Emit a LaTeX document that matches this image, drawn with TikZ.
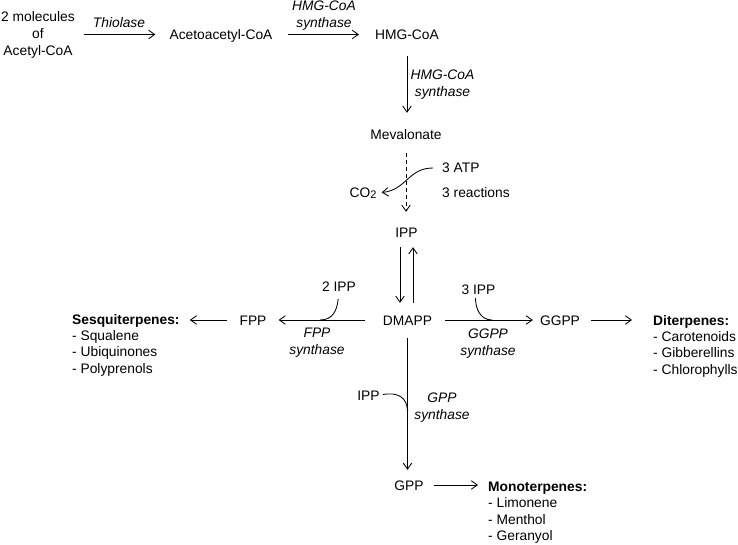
\documentclass[tikz,border=0pt]{standalone}
\usepackage{fontspec}
\setmainfont{Liberation Sans}
\usetikzlibrary{arrows.meta}
\begin{document}
\begin{tikzpicture}[x=1pt,y=-1pt,
  every node/.style={font=\fontsize{13.8}{17}\selectfont, inner sep=0pt},
  met/.style={text height=10pt, text depth=0pt},
  enz/.style={font=\fontsize{13.8}{17}\selectfont\itshape, align=center},
  grp/.style={align=left, anchor=north west, font=\fontsize{13.8}{16.3}\selectfont},
  rx/.style={-{Straight Barb[length=6pt,width=8.5pt]}, line width=0.85pt},
  hook/.style={line width=0.85pt}]
\useasboundingbox (0,0) rectangle (738,545);
\node[align=center] (AcCoA) at (38,34.5) {2 molecules\\of\\Acetyl-CoA};
\node[met] (AcAcCoA) at (221,34.5) {Acetoacetyl-CoA};
\node[met] (HMGCoA) at (407,34.5) {HMG-CoA};
\node[met] (Mev) at (406,135) {Mevalonate};
\node[met] (IPP) at (406.5,232) {IPP};
\node[met] (DMAPP) at (407.5,320) {DMAPP};
\node[met] (FPP) at (253,320) {FPP};
\node[met] (GGPP) at (560,320) {GGPP};
\node[met] (GPP) at (409,485) {GPP};
\node[met] (CO2) at (363,193) {CO\raisebox{-1pt}{\fontsize{11}{12}\selectfont 2}};
\node[met,anchor=west] (ATP) at (442,168) {3 ATP};
\node[met,anchor=west] (React) at (442,193) {3 reactions};
\node[met] (IPPa) at (339,286) {2 IPP};
\node[met] (IPPb) at (478.5,289) {3 IPP};
\node[met] (IPPc) at (368.5,395) {IPP};
\node[enz,met] (Thio) at (119,23) {Thiolase};
\node[enz,anchor=north] (HMGSa) at (324,1) {HMG-CoA\\synthase};
\node[enz,anchor=north] (HMGSb) at (442.5,70) {HMG-CoA\\synthase};
\node[enz,anchor=north] (FPPS) at (317,328) {FPP\\synthase};
\node[enz,anchor=north] (GGPPS) at (488,329) {GGPP\\synthase};
\node[enz,anchor=north] (GPPS) at (442,393) {GPP\\synthase};
\node[grp] (Sesq) at (72,314) {\textbf{Sesquiterpenes:}\\- Squalene\\- Ubiquinones\\- Polyprenols};
\node[grp] (Dit) at (653,315) {\textbf{Diterpenes:}\\- Carotenoids\\- Gibberellins\\- Chlorophylls};
\node[grp] (Mono) at (488,482) {\textbf{Monoterpenes:}\\- Limonene\\- Menthol\\- Geranyol};
\coordinate (jFPP) at (320,320);
\coordinate (jGGPP) at (492,320);
\coordinate (jGPP) at (407.5,412);
\draw[rx,shorten <=9pt,shorten >=14pt] (AcCoA.east |- AcAcCoA) -- (AcAcCoA.west);
\draw[rx,shorten <=15pt,shorten >=16pt] (AcAcCoA.east) -- (HMGCoA.west);
\draw[rx,shorten <=16pt,shorten >=17pt] (HMGCoA.south) -- (HMGCoA.south |- Mev.north);
\draw[rx,dash pattern=on 4pt off 3pt,shorten <=13pt,shorten >=15pt] (Mev.south) -- (Mev.south |- IPP.north);
\draw[rx,shorten <=9pt,shorten >=5pt] (ATP.west) .. controls +(-34,0) and +(30,-3) .. (CO2.east);
\draw[rx,shorten <=10pt,shorten >=12pt] ([xshift=-6.5pt]IPP.south) -- ([xshift=-6.5pt]IPP.south |- DMAPP.north);
\draw[rx,shorten <=12pt,shorten >=10pt] ([xshift=6.5pt]IPP.south |- DMAPP.north) -- ([xshift=6.5pt]IPP.south);
\draw[rx,shorten <=18pt,shorten >=12pt] (DMAPP.west) -- (FPP.east);
\draw[hook,shorten <=8pt] (IPPa.south) .. controls +(-2,19) and +(13,0) .. (jFPP);
\draw[rx,shorten <=12pt,shorten >=10pt] (FPP.west) -- (FPP.west -| Sesq.east);
\draw[rx,shorten <=13pt,shorten >=7pt] (DMAPP.east) -- (GGPP.west);
\draw[hook,shorten <=4pt] ([xshift=-3pt]IPPb.south) .. controls +(0,14) and +(-12,0) .. (jGGPP);
\draw[rx,shorten <=11pt,shorten >=21pt] (GGPP.east) -- (GGPP.east -| Dit.west);
\draw[rx,shorten <=13pt,shorten >=10pt] (DMAPP.south) -- (DMAPP.south |- GPP.north);
\draw[hook,shorten <=3pt] (IPPc.east) .. controls +(18,-3) and +(0,-15) .. (jGPP);
\draw[rx,shorten <=10pt,shorten >=10pt] (GPP.east) -- (GPP.east -| Mono.west);
\end{tikzpicture}
\end{document}
